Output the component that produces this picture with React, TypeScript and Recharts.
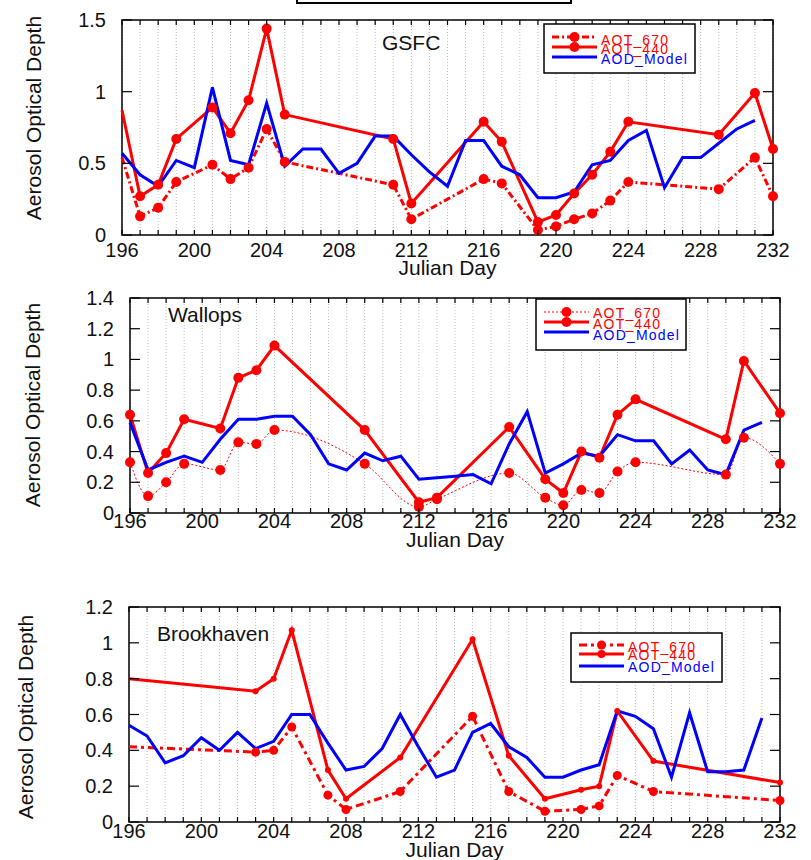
import React from 'react';
import { LineChart, Line, XAxis, YAxis, CartesianGrid, ReferenceArea } from 'recharts';

// Julian days: labelled ticks, every-day ticks, model days
const labelDays = [196, 200, 204, 208, 212, 216, 220, 224, 228, 232];
const allDays = [
  196, 197, 198, 199, 200, 201, 202, 203, 204, 205, 206, 207, 208, 209, 210, 211, 212, 213, 214,
  215, 216, 217, 218, 219, 220, 221, 222, 223, 224, 225, 226, 227, 228, 229, 230, 231, 232,
];
const modelDays = [
  196, 197, 198, 199, 200, 201, 202, 203, 204, 205, 206, 207, 208, 209, 210, 211, 212, 213, 214,
  215, 216, 217, 218, 219, 220, 221, 222, 223, 224, 225, 226, 227, 228, 229, 230, 231,
];

// GSFC
const gsfcObsDays = [196, 197, 198, 199, 201, 202, 203, 204, 205, 211, 212, 216, 217, 219, 220, 221, 222, 223, 224, 229, 231, 232];
const gsfcAot440 = [0.87, 0.27, 0.35, 0.67, 0.89, 0.71, 0.94, 1.44, 0.84, 0.67, 0.22, 0.79, 0.65, 0.09, 0.14, 0.29, 0.42, 0.58, 0.79, 0.7, 0.99, 0.6];
const gsfcAot670 = [0.54, 0.13, 0.19, 0.37, 0.49, 0.39, 0.47, 0.74, 0.51, 0.35, 0.11, 0.39, 0.36, 0.035, 0.06, 0.11, 0.15, 0.24, 0.37, 0.32, 0.54, 0.27];
const gsfcModel = [
  0.57, 0.42, 0.34, 0.52, 0.47, 1.03, 0.52, 0.49, 0.92, 0.48, 0.6, 0.6, 0.43, 0.5, 0.69, 0.69, 0.56, 0.44,
  0.34, 0.66, 0.66, 0.48, 0.42, 0.26, 0.26, 0.3, 0.49, 0.52, 0.66, 0.73, 0.33, 0.54, 0.54, 0.64, 0.74, 0.8,
];

// Wallops
const wallopsObsDays = [196, 197, 198, 199, 201, 202, 203, 204, 209, 212, 213, 217, 219, 220, 221, 222, 223, 224, 229, 230, 232];
const wallopsAot440 = [0.64, 0.26, 0.39, 0.61, 0.55, 0.88, 0.93, 1.09, 0.54, 0.07, 0.1, 0.56, 0.22, 0.13, 0.4, 0.36, 0.64, 0.74, 0.48, 0.99, 0.65];
const wallopsAot670 = [0.33, 0.11, 0.2, 0.32, 0.28, 0.46, 0.45, 0.54, 0.32, 0.04, 0.09, 0.26, 0.1, 0.05, 0.15, 0.13, 0.27, 0.33, 0.25, 0.49, 0.32];
const wallopsModel = [
  0.59, 0.28, 0.33, 0.37, 0.33, 0.48, 0.61, 0.61, 0.63, 0.63, 0.51, 0.32, 0.28, 0.39, 0.34, 0.37, 0.22, 0.23,
  0.24, 0.25, 0.19, 0.45, 0.66, 0.26, 0.32, 0.39, 0.37, 0.51, 0.47, 0.47, 0.32, 0.41, 0.28, 0.25, 0.54, 0.59,
];

// Brookhaven
const brookObsDays = [196, 203, 204, 205, 207, 208, 211, 215, 217, 219, 221, 222, 223, 225, 232];
const brookAot440 = [0.8, 0.73, 0.8, 1.07, 0.29, 0.13, 0.36, 1.02, 0.37, 0.13, 0.18, 0.2, 0.62, 0.34, 0.22];
const brookAot670 = [0.42, 0.39, 0.4, 0.53, 0.15, 0.07, 0.17, 0.59, 0.17, 0.06, 0.07, 0.09, 0.26, 0.17, 0.12];
const brookModel = [
  0.54, 0.48, 0.33, 0.37, 0.47, 0.4, 0.5, 0.41, 0.45, 0.6, 0.6, 0.44, 0.29, 0.31, 0.41, 0.6, 0.42, 0.25,
  0.29, 0.5, 0.55, 0.42, 0.36, 0.25, 0.25, 0.29, 0.32, 0.62, 0.59, 0.52, 0.25, 0.61, 0.28, 0.28, 0.29, 0.58,
];

const FONT = '"Liberation Sans", Arial, sans-serif';
const RED = '#ff0000';
const BLUE = '#0000ff';
const W = 811;

const rows = (days: number[], values: number[]) => days.map((day, i) => ({ day, value: values[i] }));
const fmt = (v: number) => String(+v.toFixed(1));

type Plot = { left: number; top: number; right: number; bottom: number };

type PanelProps = {
  name: string;
  top: number;
  height: number;
  plot: Plot;
  yMax: number;
  yTicks: number[];
  obsDays: number[];
  aot440: number[];
  aot670: number[];
  model: number[];
  style440: { width: number; r: number };
  style670: { width: number; r: number; dash: string; curve: 'linear' | 'monotone' };
  hideFirstDot: boolean;
  stationPos: [number, number];
  yTitle: [number, number];
  tickBaseline: number;
  julianBaseline: number;
  legend: { x: number; y: number; w: number; h: number; lines: number[]; texts: number[] };
};

// filled red marker; the first one is skipped at stations where the record starts off the edge
const makeDot = (r: number, hideFirst: boolean) => (props: any) => {
  const { cx, cy, index } = props;
  if (hideFirst && index === 0) return <g key={`d${index}`} />;
  return <circle key={`d${index}`} cx={cx} cy={cy} r={r} fill={RED} />;
};

function Panel(p: PanelProps) {
  const { plot } = p;
  const yW = 60;
  const xH = 30;
  const margin = {
    top: plot.top,
    left: plot.left - yW,
    right: W - plot.right,
    bottom: p.height - plot.bottom - xH,
  };

  const xTick = (props: any) => {
    const { x, payload } = props;
    const v = payload.value as number;
    return (
      <g>
        <line x1={x} x2={x} y1={plot.bottom} y2={plot.bottom - 5} stroke="#000" strokeWidth={1.2} />
        <line x1={x} x2={x} y1={plot.top} y2={plot.top + 5} stroke="#000" strokeWidth={1.2} />
        {labelDays.includes(v) && (
          <text x={x} y={p.tickBaseline} textAnchor="middle" fontSize={20} fontFamily={FONT} fill="#111">
            {v}
          </text>
        )}
      </g>
    );
  };

  const yTick = (props: any) => {
    const { y, payload } = props;
    const v = payload.value as number;
    return (
      <g>
        <line x1={plot.left} x2={plot.left + 10} y1={y} y2={y} stroke="#000" strokeWidth={1.2} />
        <line x1={plot.right - 10} x2={plot.right} y1={y} y2={y} stroke="#000" strokeWidth={1.2} />
        <text x={plot.left - 16} y={y + 7} textAnchor="end" fontSize={20} fontFamily={FONT} fill="#111">
          {fmt(v)}
        </text>
      </g>
    );
  };

  const lg = p.legend;
  const lx1 = lg.x + 8;
  const lx2 = lx1 + 45;
  const lmid = (lx1 + lx2) / 2;
  const tx = lg.x + 57;

  return (
    <div style={{ position: 'absolute', left: 0, top: p.top, width: W, height: p.height }}>
      <LineChart width={W} height={p.height} margin={margin}>
        <CartesianGrid horizontal={false} strokeDasharray="1 2" stroke="#bdbdbd" />
        <XAxis
          type="number"
          dataKey="day"
          domain={[196, 232]}
          ticks={allDays}
          interval={0}
          tick={xTick}
          tickLine={false}
          axisLine={false}
          height={xH}
          allowDuplicatedCategory={false}
        />
        <YAxis
          type="number"
          domain={[0, p.yMax]}
          ticks={p.yTicks}
          interval={0}
          tick={yTick}
          tickLine={false}
          axisLine={false}
          width={yW}
        />
        <ReferenceArea x1={196} x2={232} y1={0} y2={p.yMax} fill="none" stroke="#000" strokeWidth={1.5} ifOverflow="visible" />
        <Line
          data={rows(p.obsDays, p.aot670)}
          dataKey="value"
          type={p.style670.curve}
          stroke={RED}
          strokeWidth={p.style670.width}
          strokeDasharray={p.style670.dash}
          dot={makeDot(p.style670.r, p.hideFirstDot)}
          isAnimationActive={false}
        />
        <Line
          data={rows(p.obsDays, p.aot440)}
          dataKey="value"
          type="linear"
          stroke={RED}
          strokeWidth={p.style440.width}
          dot={makeDot(p.style440.r, p.hideFirstDot)}
          isAnimationActive={false}
        />
        <Line
          data={rows(modelDays, p.model)}
          dataKey="value"
          type="linear"
          stroke={BLUE}
          strokeWidth={3}
          dot={false}
          isAnimationActive={false}
        />
      </LineChart>

      <svg
        width={W}
        height={p.height}
        style={{ position: 'absolute', left: 0, top: 0, pointerEvents: 'none' }}
        fontFamily={FONT}
      >
        <text x={p.stationPos[0]} y={p.stationPos[1]} fontSize={21} fill="#111">
          {p.name}
        </text>
        <text
          transform={`translate(${p.yTitle[0]},${p.yTitle[1]}) rotate(-90)`}
          textAnchor="middle"
          dominantBaseline="central"
          fontSize={21}
          fill="#111"
        >
          Aerosol Optical Depth
        </text>
        <text x={(plot.left + plot.right) / 2} y={p.julianBaseline} textAnchor="middle" fontSize={21} fill="#111">
          Julian Day
        </text>

        <rect x={lg.x} y={lg.y} width={lg.w} height={lg.h} fill="#fff" stroke="#000" strokeWidth={1.5} />
        <line
          x1={lx1}
          x2={lx2}
          y1={lg.lines[0]}
          y2={lg.lines[0]}
          stroke={RED}
          strokeWidth={p.style670.width}
          strokeDasharray={p.style670.dash}
        />
        <circle cx={lmid} cy={lg.lines[0]} r={p.style670.r} fill={RED} />
        <line x1={lx1} x2={lx2} y1={lg.lines[1]} y2={lg.lines[1]} stroke={RED} strokeWidth={p.style440.width} />
        <circle cx={lmid} cy={lg.lines[1]} r={Math.max(p.style440.r, 4)} fill={RED} />
        <line x1={lx1} x2={lx2} y1={lg.lines[2]} y2={lg.lines[2]} stroke={BLUE} strokeWidth={3} />
        <text x={tx} y={lg.texts[0]} fontSize={14} letterSpacing={1.2} fill={RED}>
          AOT_670
        </text>
        <text x={tx} y={lg.texts[1]} fontSize={14} letterSpacing={1.2} fill={RED}>
          AOT_440
        </text>
        <text x={tx} y={lg.texts[2]} fontSize={14} letterSpacing={1.2} fill={BLUE}>
          AOD_Model
        </text>
      </svg>
    </div>
  );
}

export default function App() {
  return (
    <div
      style={{
        position: 'absolute',
        left: 0,
        top: 0,
        width: W,
        height: 860,
        background: '#fff',
        overflow: 'hidden',
        fontFamily: FONT,
      }}
    >
      {/* title frame cut off at the top edge */}
      <div
        style={{
          position: 'absolute',
          left: 296,
          top: -12,
          width: 272,
          height: 12,
          border: '2px solid #000',
        }}
      />
      <Panel
        name="GSFC"
        top={0}
        height={280}
        plot={{ left: 122, top: 20, right: 773, bottom: 235 }}
        yMax={1.5}
        yTicks={[0, 0.5, 1, 1.5]}
        obsDays={gsfcObsDays}
        aot440={gsfcAot440}
        aot670={gsfcAot670}
        model={gsfcModel}
        style440={{ width: 3, r: 5 }}
        style670={{ width: 3, r: 5, dash: '7 3 2 3', curve: 'linear' }}
        hideFirstDot={true}
        stationPos={[382, 50]}
        yTitle={[33, 118]}
        tickBaseline={257}
        julianBaseline={275}
        legend={{ x: 544, y: 24, w: 151, h: 49, lines: [37, 47, 57], texts: [45, 54, 64] }}
      />
      <Panel
        name="Wallops"
        top={280}
        height={280}
        plot={{ left: 130, top: 18, right: 780, bottom: 233 }}
        yMax={1.4}
        yTicks={[0, 0.2, 0.4, 0.6, 0.8, 1, 1.2, 1.4]}
        obsDays={wallopsObsDays}
        aot440={wallopsAot440}
        aot670={wallopsAot670}
        model={wallopsModel}
        style440={{ width: 3, r: 5 }}
        style670={{ width: 1, r: 5, dash: '2 2', curve: 'monotone' }}
        hideFirstDot={false}
        stationPos={[168, 42]}
        yTitle={[32, 125]}
        tickBaseline={248}
        julianBaseline={267}
        legend={{ x: 536, y: 19, w: 150, h: 51, lines: [32, 42, 52], texts: [38, 49, 60] }}
      />
      <Panel
        name="Brookhaven"
        top={580}
        height={280}
        plot={{ left: 129, top: 27, right: 780, bottom: 242 }}
        yMax={1.2}
        yTicks={[0, 0.2, 0.4, 0.6, 0.8, 1, 1.2]}
        obsDays={brookObsDays}
        aot440={brookAot440}
        aot670={brookAot670}
        model={brookModel}
        style440={{ width: 3, r: 3 }}
        style670={{ width: 3, r: 4.5, dash: '8 4 3 4', curve: 'linear' }}
        hideFirstDot={true}
        stationPos={[157, 61]}
        yTitle={[25, 137]}
        tickBaseline={258}
        julianBaseline={277}
        legend={{ x: 571, y: 53, w: 151, h: 49, lines: [65, 74, 86], texts: [72, 80, 92] }}
      />
    </div>
  );
}
